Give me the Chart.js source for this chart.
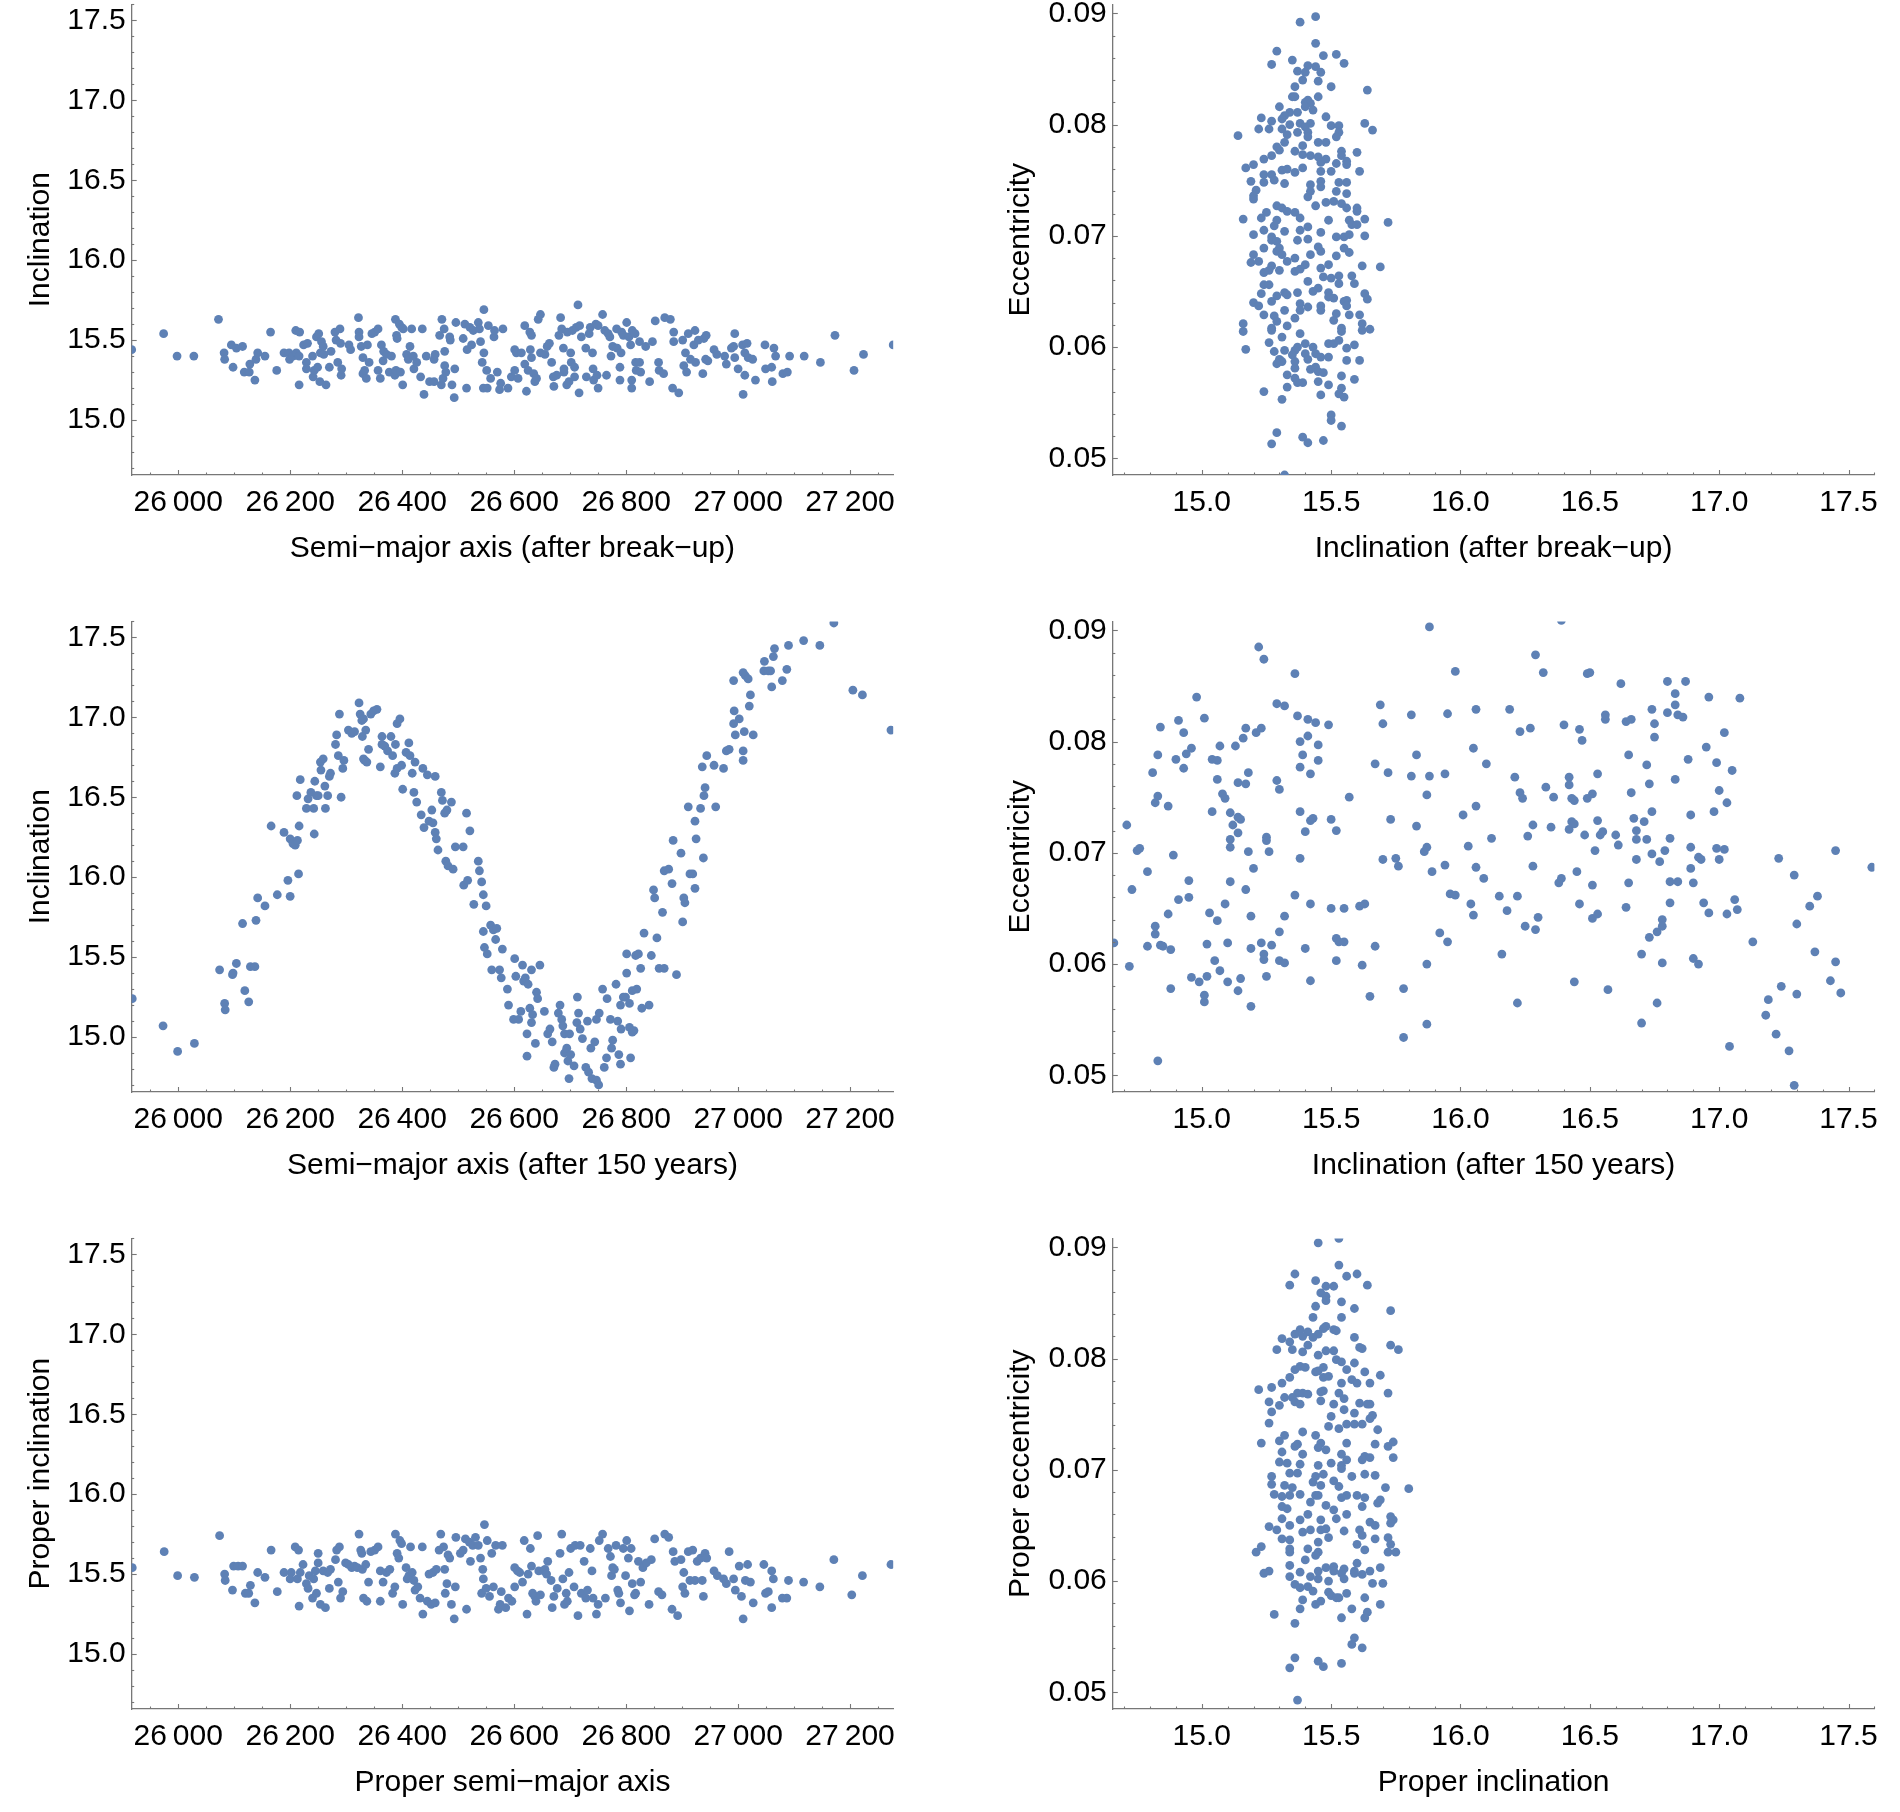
<!DOCTYPE html>
<html>
<head>
<meta charset="utf-8">
<script src="https://cdn.jsdelivr.net/npm/chart.js@4.4.1/dist/chart.umd.min.js"></script>
<style>
  html, body { margin: 0; padding: 0; background: #fff; overflow: hidden; }
  body { width: 1900px; height: 1812px; position: relative; }
  .panel { position: absolute; width: 950px; height: 617px; }
  .panel canvas { display: block; }
</style>
</head>
<body>
<div class="panel" style="left:0;top:0"><canvas id="p1" width="950" height="617"></canvas></div>
<div class="panel" style="left:950px;top:0"><canvas id="p2" width="950" height="617"></canvas></div>
<div class="panel" style="left:0;top:617px"><canvas id="p3" width="950" height="617"></canvas></div>
<div class="panel" style="left:950px;top:617px"><canvas id="p4" width="950" height="617"></canvas></div>
<div class="panel" style="left:0;top:1234px"><canvas id="p5" width="950" height="617"></canvas></div>
<div class="panel" style="left:950px;top:1234px"><canvas id="p6" width="950" height="617"></canvas></div>
<script>
// tick labels and plot ranges
const semiMajorTicks = [26000, 26200, 26400, 26600, 26800, 27000, 27200];
const inclinationTicks = [15.0, 15.5, 16.0, 16.5, 17.0, 17.5];
const eccentricityTicks = [0.05, 0.06, 0.07, 0.08, 0.09];
const semiMajorRange = [25917, 27277];
const inclinationRange = [14.656, 17.6];
const eccentricityRange = [0.0485, 0.0908];

// [semi-major axis, inclination] after break-up
const breakupSemiMajorIncl = [
  [25917,15.44],[25974,15.54],[25998,15.40],[26028,15.40],[26072,15.63],[26082,15.42],[26083,15.38],[26095,15.47],[26098,15.33],[26104,15.45],
  [26115,15.46],[26118,15.30],[26127,15.30],[26128,15.35],[26137,15.25],[26139,15.38],[26142,15.42],[26155,15.40],[26165,15.55],[26176,15.31],
  [26189,15.42],[26198,15.42],[26199,15.38],[26205,15.40],[26210,15.56],[26211,15.42],[26216,15.22],[26217,15.55],[26216,15.40],[26224,15.47],
  [26231,15.48],[26229,15.36],[26229,15.32],[26240,15.40],[26241,15.27],[26243,15.31],[26247,15.52],[26249,15.33],[26251,15.54],[26253,15.24],
  [26254,15.42],[26256,15.49],[26259,15.46],[26264,15.22],[26260,15.41],[26270,15.33],[26273,15.43],[26280,15.55],[26282,15.50],[26285,15.36],
  [26289,15.57],[26290,15.48],[26291,15.28],[26292,15.32],[26305,15.47],[26308,15.44],[26322,15.64],[26323,15.55],[26323,15.52],[26327,15.46],
  [26330,15.29],[26330,15.39],[26333,15.31],[26336,15.26],[26338,15.47],[26341,15.36],[26346,15.54],[26351,15.55],[26357,15.57],[26357,15.31],
  [26361,15.26],[26363,15.47],[26366,15.37],[26367,15.43],[26372,15.41],[26377,15.30],[26381,15.40],[26387,15.28],[26389,15.31],[26388,15.63],
  [26390,15.53],[26391,15.51],[26395,15.60],[26397,15.30],[26399,15.58],[26401,15.22],[26402,15.57],[26408,15.41],[26411,15.38],[26414,15.46],
  [26417,15.57],[26420,15.40],[26421,15.32],[26426,15.36],[26433,15.27],[26436,15.57],[26439,15.16],[26443,15.40],[26449,15.24],[26457,15.24],
  [26457,15.38],[26459,15.41],[26467,15.53],[26470,15.22],[26471,15.63],[26473,15.26],[26475,15.57],[26476,15.43],[26476,15.34],[26478,15.30],
  [26485,15.52],[26486,15.50],[26489,15.22],[26493,15.14],[26494,15.32],[26496,15.61],[26509,15.51],[26512,15.60],[26515,15.20],[26516,15.44],
  [26521,15.58],[26524,15.47],[26527,15.56],[26536,15.61],[26538,15.57],[26540,15.49],[26543,15.36],[26545,15.20],[26546,15.69],[26546,15.42],
  [26551,15.31],[26552,15.20],[26554,15.59],[26558,15.26],[26564,15.52],[26565,15.56],[26570,15.30],[26574,15.19],[26576,15.23],[26580,15.57],
  [26589,15.20],
  [26595,15.27],[26601,15.31],[26601,15.44],[26604,15.42],[26607,15.26],[26613,15.42],[26619,15.59],[26619,15.35],[26622,15.18],[26625,15.31],
  [26628,15.55],[26631,15.53],[26629,15.44],[26631,15.39],[26635,15.29],[26637,15.24],[26640,15.26],[26643,15.63],[26647,15.66],[26647,15.42],
  [26655,15.41],[26659,15.46],[26663,15.48],[26667,15.36],[26670,15.27],[26671,15.21],[26676,15.28],[26680,15.53],[26683,15.64],[26685,15.57],
  [26688,15.45],[26689,15.30],[26689,15.32],[26694,15.22],[26695,15.55],[26698,15.24],[26701,15.42],[26702,15.36],[26704,15.56],[26708,15.27],
  [26708,15.33],[26711,15.58],[26714,15.72],[26716,15.17],[26717,15.59],[26720,15.52],[26728,15.45],[26729,15.27],[26734,15.54],[26736,15.58],
  [26740,15.42],[26741,15.32],[26742,15.25],[26746,15.60],[26748,15.28],[26750,15.20],[26750,15.59],[26758,15.66],[26762,15.56],[26765,15.28],
  [26768,15.54],[26771,15.52],[26773,15.40],[26776,15.46],[26783,15.57],[26784,15.45],[26789,15.33],[26789,15.25],[26791,15.42],[26792,15.55],
  [26795,15.53],[26801,15.61],[26805,15.52],[26808,15.47],[26810,15.25],[26810,15.20],[26811,15.56],[26816,15.54],[26817,15.36],[26818,15.31],
  [26824,15.36],[26824,15.49],[26826,15.30],[26835,15.46],[26842,15.24],[26847,15.49],[26852,15.62],[26858,15.36],[26859,15.31],[26867,15.29],
  [26869,15.64],[26879,15.63],[26883,15.20],[26885,15.49],[26885,15.55],[26894,15.17],[26901,15.50],[26903,15.34],[26906,15.42],[26908,15.30],
  [26911,15.54],[26915,15.38],[26921,15.47],[26923,15.56],[26924,15.36],[26929,15.50],[26937,15.29],[26939,15.51],[26943,15.53],[26942,15.38],
  [26946,15.37],[26957,15.44],[26962,15.41],[26976,15.40],[26979,15.35],[26988,15.45],[26992,15.46],[26994,15.54],[26994,15.39],[27000,15.32],
  [27008,15.47],[27009,15.16],[27012,15.28],[27012,15.42],[27016,15.48],[27018,15.39],[27026,15.38],[27031,15.25],[27048,15.47],[27049,15.32],
  [27060,15.33],[27061,15.24],[27064,15.45],[27067,15.40],[27080,15.29],[27088,15.30],[27092,15.40],[27118,15.40],[27147,15.36],[27173,15.53],
  [27207,15.31],[27224,15.41],[27277,15.47]
];

// [inclination, eccentricity] after break-up
const breakupInclEcc = [
  [15.44,0.0897],[15.38,0.0892],[15.44,0.0873],[15.29,0.0866],[15.52,0.0863],[15.47,0.0862],[15.35,0.0858],[15.27,0.0854],[15.55,0.0855],[15.41,0.0853],
  [15.44,0.0852],[15.37,0.0848],[15.46,0.0847],[15.40,0.0847],[15.39,0.0840],[15.45,0.0839],[15.36,0.0834],[15.50,0.0834],[15.64,0.0831],[15.35,0.0825],
  [15.36,0.0825],[15.45,0.0825],[15.41,0.0822],[15.40,0.0820],[15.42,0.0819],[15.40,0.0816],[15.30,0.0816],[15.43,0.0813],[15.34,0.0811],[15.37,0.0811],
  [15.32,0.0808],[15.23,0.0806],[15.48,0.0807],[15.27,0.0803],[15.31,0.0805],[15.38,0.0801],[15.42,0.0801],[15.34,0.0800],[15.40,0.0798],[15.50,0.0799],
  [15.53,0.0799],[15.63,0.0801],[15.22,0.0796],[15.26,0.0796],[15.31,0.0796],[15.37,0.0793],[15.41,0.0793],[15.66,0.0795],[15.33,0.0791],[15.53,0.0793],
  [15.41,0.0789],[15.52,0.0789],[15.14,0.0790],[15.45,0.0784],[15.48,0.0784],[15.32,0.0784],[15.39,0.0781],[15.29,0.0780],[15.30,0.0777],[15.36,0.0776],
  [15.54,0.0776],[15.60,0.0775],[15.27,0.0772],[15.39,0.0773],[15.42,0.0772],[15.24,0.0769],[15.45,0.0771],[15.48,0.0769],[15.54,0.0772],[15.46,0.0766],
  [15.52,0.0765],[15.56,0.0767],[15.56,0.0764],[15.20,0.0764],[15.17,0.0761],[15.39,0.0761],[15.61,0.0758],[15.24,0.0755],[15.27,0.0755],[15.31,0.0759],
  [15.33,0.0760],[15.36,0.0757],[15.46,0.0758],[15.50,0.0758],[15.28,0.0750],[15.19,0.0749],[15.24,0.0748],[15.32,0.0747],[15.42,0.0746],[15.46,0.0749],
  [15.53,0.0748],[15.56,0.0748],[15.46,0.0744],[15.52,0.0740],[15.21,0.0741],[15.42,0.0740],[15.56,0.0738],[15.20,0.0736],[15.20,0.0733],[15.41,0.0735],
  [15.48,0.0730],[15.51,0.0731],[15.54,0.0729],[15.44,0.0727],[15.56,0.0725],[15.60,0.0725],[15.60,0.0722],[15.29,0.0727],[15.31,0.0725],[15.33,0.0722],
  [15.25,0.0721],[15.36,0.0721],[15.23,0.0716],[15.16,0.0715],[15.29,0.0714],[15.38,0.0716],[15.49,0.0714],[15.57,0.0714],[15.63,0.0715],[15.72,0.0712],
  [15.58,0.0710],[15.60,0.0710],[15.28,0.0709],[15.41,0.0708],[15.38,0.0705],[15.32,0.0704],[15.24,0.0705],[15.46,0.0703],[15.20,0.0701],[15.52,0.0699],
  [15.55,0.0699],[15.57,0.0701],[15.63,0.0700],[15.27,0.0699],[15.27,0.0696],[15.29,0.0695],[15.37,0.0696],[15.41,0.0697],[15.45,0.0690],[15.46,0.0686],
  [15.30,0.0689],[15.24,0.0689],[15.55,0.0689],[15.57,0.0685],[15.42,0.0683],[15.52,0.0682],[15.20,0.0683],[15.29,0.0686],[15.31,0.0683],[15.36,0.0680],
  [15.33,0.0677],[15.19,0.0676],[15.22,0.0677],[15.40,0.0674],[15.27,0.0673],[15.62,0.0673],[15.69,0.0672],[15.26,0.0669],[15.30,0.0669],[15.36,0.0668],
  [15.38,0.0670],[15.46,0.0671],[15.24,0.0667],[15.49,0.0674],[15.50,0.0662],[15.53,0.0664],[15.47,0.0663],[15.58,0.0664],[15.41,0.0659],[15.24,0.0656],
  [15.53,0.0657],[15.59,0.0657],[15.26,0.0656],[15.45,0.0653],[15.43,0.0650],[15.37,0.0649],[15.32,0.0649],[15.49,0.0649],[15.33,0.0647],[15.23,0.0648],
  [15.63,0.0648],[15.64,0.0643],[15.49,0.0645],[15.29,0.0646],[15.20,0.0640],[15.51,0.0644],[15.56,0.0642],[15.55,0.0641],[15.38,0.0639],[15.22,0.0637],
  [15.27,0.0641],[15.56,0.0637],[15.41,0.0636],[15.46,0.0637],[15.38,0.0633],[15.32,0.0633],[15.46,0.0633],[15.52,0.0630],[15.24,0.0629],[15.57,0.0629],
  [15.61,0.0629],[15.28,0.0628],[15.36,0.0626],[15.51,0.0624],[15.29,0.0623],[15.16,0.0621],[15.27,0.0617],[15.33,0.0619],[15.54,0.0617],[15.54,0.0614],
  [15.62,0.0621],[15.62,0.0615],[15.65,0.0616],[15.16,0.0614],[15.27,0.0615],[15.38,0.0612],[15.31,0.0609],[15.40,0.0603],[15.26,0.0604],[15.49,0.0603],
  [15.51,0.0603],[15.53,0.0606],[15.37,0.0600],[15.43,0.0600],[15.59,0.0602],[15.17,0.0598],[15.32,0.0597],[15.36,0.0597],[15.28,0.0596],[15.40,0.0594],
  [15.56,0.0599],[15.44,0.0594],[15.46,0.0591],[15.49,0.0591],[15.35,0.0593],[15.30,0.0589],[15.31,0.0587],[15.29,0.0585],[15.56,0.0588],[15.61,0.0588],
  [15.36,0.0587],[15.41,0.0589],[15.42,0.0580],[15.44,0.0582],[15.36,0.0581],[15.45,0.0578],[15.47,0.0577],[15.33,0.0575],[15.54,0.0574],[15.36,0.0572],
  [15.37,0.0568],[15.39,0.0568],[15.45,0.0569],[15.59,0.0571],[15.33,0.0564],[15.49,0.0566],[15.54,0.0563],[15.53,0.0558],[15.55,0.0555],[15.46,0.0557],
  [15.24,0.0560],[15.31,0.0553],[15.50,0.0539],[15.50,0.0534],[15.54,0.0529],[15.29,0.0523],[15.27,0.0513],[15.39,0.0519],[15.41,0.0514],[15.47,0.0516],
  [15.32,0.0485]
];

// [semi-major axis, inclination] after 150 years
const after150SemiMajorIncl = [
  [25918,15.24],[25973,15.07],[25999,14.91],[26029,14.96],[26074,15.42],[26083,15.21],[26084,15.17],[26097,15.39],[26098,15.40],[26104,15.46],
  [26119,15.29],[26115,15.71],[26126,15.22],[26129,15.44],[26137,15.44],[26139,15.73],[26142,15.87],[26155,15.82],[26166,16.32],[26177,15.89],
  [26189,16.28],[26196,15.98],[26200,15.88],[26200,16.24],[26205,16.21],[26209,16.20],[26212,16.51],[26213,16.23],[26215,16.02],[26216,16.32],
  [26218,16.61],[26229,16.43],[26232,16.49],[26237,16.53],[26242,16.43],[26243,16.27],[26244,16.60],[26247,16.51],[26250,16.51],[26254,16.72],
  [26255,16.67],[26259,16.74],[26263,16.43],[26262,16.57],[26267,16.51],[26270,16.63],[26272,16.65],[26281,16.83],[26283,16.89],[26286,16.76],
  [26288,17.02],[26291,16.50],[26294,16.68],[26296,16.73],[26304,16.92],[26310,16.90],[26315,16.91],[26323,17.09],[26325,17.02],[26328,16.98],
  [26331,16.99],[26335,16.92],[26329,16.88],[26331,16.74],[26333,16.73],[26337,16.72],[26340,16.80],[26344,17.02],[26349,17.04],[26355,17.05],
  [26361,16.69],[26364,16.88],[26364,16.83],[26369,16.82],[26374,16.79],[26380,16.88],[26383,16.76],[26387,16.65],[26388,16.83],[26391,16.68],
  [26391,16.96],[26396,16.99],[26399,16.70],[26401,16.55],[26407,16.78],[26412,16.84],[26414,16.76],[26418,16.65],[26421,16.53],[26423,16.72],
  [26426,16.47],[26434,16.39],[26437,16.68],[26439,16.31],[26445,16.64],[26448,16.35],[26453,16.42],[26455,16.34],[26459,16.63],[26459,16.28],
  [26461,16.24],[26464,16.17],[26470,16.53],[26472,16.48],[26476,16.40],[26478,16.10],[26480,16.42],[26482,16.07],[26488,16.47],[26491,16.05],
  [26495,16.19],[26509,16.19],[26510,15.95],[26515,16.40],[26517,15.98],[26521,16.29],[26528,15.83],[26536,16.10],[26538,16.04],[26542,15.97],
  [26545,15.89],[26550,15.82],[26545,15.66],[26547,15.56],[26552,15.52],[26558,15.70],[26563,15.67],[26567,15.61],[26569,15.68],[26560,15.42],
  [26574,15.42],[26577,15.37],[26579,15.55],[26588,15.30],[26590,15.20],[26599,15.11],[26601,15.49],[26603,15.38],[26608,15.11],[26612,15.16],
  [26615,15.45],[26617,15.35],[26620,15.37],[26625,15.33],[26628,15.18],[26631,15.42],[26631,15.09],[26633,15.14],[26638,14.96],[26640,15.28],
  [26642,15.24],[26646,15.45],[26623,15.02],[26623,14.88],[26654,15.16],[26660,15.02],[26664,15.05],[26668,14.97],[26671,14.81],[26673,14.83],
  [26679,15.15],[26682,15.20],[26685,15.11],[26687,15.07],[26690,15.02],[26690,14.90],[26694,14.93],[26696,14.85],[26698,14.74],[26699,15.02],
  [26701,14.89],[26707,14.82],[26713,15.25],[26712,15.09],[26715,15.15],[26718,15.05],[26722,14.99],[26728,14.81],[26731,15.10],[26733,14.78],
  [26737,14.93],[26739,14.74],[26744,14.97],[26747,14.73],[26751,14.70],[26747,15.11],[26752,15.15],[26758,15.30],[26761,14.81],[26765,14.87],
  [26766,15.24],[26772,15.11],[26774,14.93],[26776,14.98],[26782,15.33],[26785,15.10],[26787,14.89],[26790,14.83],[26790,15.20],[26791,15.05],
  [26795,15.25],[26799,15.25],[26801,15.52],[26801,15.40],[26806,15.21],[26806,15.06],[26808,14.87],[26811,15.29],[26811,15.03],[26814,15.04],
  [26817,15.51],[26819,15.30],[26822,15.52],[26826,15.43],[26828,15.18],[26832,15.65],[26841,15.20],[26845,15.51],[26849,15.92],[26851,15.87],
  [26855,15.62],[26859,15.43],[26865,15.78],[26868,16.04],[26868,15.43],[26876,16.05],[26882,15.96],[26884,16.23],[26890,15.39],[26898,16.15],
  [26901,15.72],[26903,15.87],[26905,15.84],[26911,16.44],[26914,16.02],[26919,16.02],[26923,15.93],[26925,16.24],[26923,16.35],[26933,16.43],
  [26936,16.69],[26938,16.12],[26939,16.51],[26941,16.56],[26944,16.76],[26960,16.44],[26957,16.70],[26974,16.68],[26979,16.79],[26984,16.80],
  [26992,17.23],[26992,16.96],[26993,17.04],[26995,16.89],[27002,16.99],[27009,16.79],[27009,16.73],[27011,16.91],[27009,17.28],[27013,17.26],
  [27018,17.24],[27020,17.07],[27022,17.14],[27027,16.89],[27046,17.29],[27047,17.35],[27054,17.29],[27058,17.29],[27060,17.19],[27063,17.38],
  [27065,17.43],[27079,17.23],[27087,17.30],[27090,17.45],[27117,17.48],[27146,17.45],[27171,17.59],[27205,17.17],[27222,17.14],[27273,16.92]
];

// [inclination, eccentricity] after 150 years
const after150InclEcc = [
  [14.66,0.0619],[14.71,0.0725],[14.72,0.0598],[14.73,0.0667],[14.75,0.0702],[14.76,0.0704],[14.79,0.0616],[14.79,0.0683],[14.81,0.0772],[14.82,0.0634],
  [14.82,0.0627],[14.82,0.0745],[14.83,0.0751],[14.83,0.0788],[14.83,0.0513],[14.84,0.0617],[14.84,0.0813],[14.85,0.0616],[14.87,0.0645],[14.87,0.0742],
  [14.88,0.0613],[14.88,0.0578],[14.89,0.0698],[14.90,0.0784],[14.91,0.0658],[14.91,0.0819],[14.93,0.0808],[14.93,0.0776],[14.94,0.0789],[14.95,0.0675],
  [14.95,0.0660],[14.96,0.0794],[14.96,0.0588],[14.98,0.0840],[14.99,0.0584],[15.01,0.0566],[15.01,0.0572],[15.01,0.0821],[15.02,0.0618],[15.02,0.0589],
  [15.03,0.0646],[15.04,0.0737],[15.04,0.0784],[15.05,0.0603],[15.06,0.0766],[15.06,0.0783],[15.06,0.0639],[15.07,0.0594],[15.07,0.0796],[15.08,0.0753],
  [15.09,0.0654],[15.09,0.0749],[15.10,0.0584],[15.10,0.0619],[15.11,0.0712],[15.11,0.0705],[15.11,0.0736],[15.11,0.0674],[15.12,0.0725],[15.13,0.0796],
  [15.14,0.0732],[15.14,0.0763],[15.14,0.0576],[15.14,0.0718],[15.15,0.0730],[15.15,0.0587],[15.16,0.0803],[15.17,0.0667],[15.17,0.0812],[15.17,0.0762],
  [15.18,0.0772],[15.18,0.0701],[15.19,0.0643],[15.19,0.0614],[15.19,0.0562],[15.20,0.0686],[15.21,0.0808],[15.22,0.0885],[15.23,0.0812],[15.23,0.0619],
  [15.24,0.0874],[15.24,0.0609],[15.24,0.0604],[15.25,0.0589],[15.25,0.0714],[15.25,0.0711],[15.26,0.0701],[15.27,0.0617],[15.29,0.0765],[15.29,0.0834],
  [15.30,0.0757],[15.30,0.0603],[15.30,0.0629],[15.32,0.0832],[15.32,0.0643],[15.32,0.0601],[15.36,0.0861],[15.36,0.0662],[15.37,0.0823],[15.38,0.0737],
  [15.38,0.0800],[15.38,0.0777],[15.38,0.0695],[15.39,0.0788],[15.40,0.0614],[15.40,0.0719],[15.41,0.0820],[15.41,0.0805],[15.42,0.0771],[15.42,0.0729],
  [15.42,0.0654],[15.42,0.0585],[15.43,0.0731],[15.44,0.0817],[15.45,0.0797],[15.45,0.0783],[15.49,0.0815],[15.50,0.0730],[15.50,0.0650],[15.52,0.0720],
  [15.52,0.0623],[15.52,0.0603],[15.53,0.0620],[15.55,0.0650],[15.55,0.0620],[15.57,0.0750],[15.61,0.0652],[15.62,0.0599],[15.63,0.0654],[15.65,0.0571],
  [15.67,0.0780],[15.67,0.0616],[15.69,0.0833],[15.70,0.0694],[15.70,0.0816],[15.72,0.0772],[15.73,0.0730],[15.75,0.0695],[15.76,0.0688],[15.78,0.0534],
  [15.78,0.0578],[15.81,0.0769],[15.81,0.0824],[15.83,0.0788],[15.83,0.0724],[15.86,0.0701],[15.87,0.0705],[15.87,0.0600],[15.87,0.0752],[15.87,0.0546],
  [15.88,0.0903],[15.88,0.0769],[15.89,0.0683],[15.92,0.0628],[15.94,0.0689],[15.94,0.0771],[15.95,0.0620],[15.95,0.0825],[15.96,0.0663],[15.98,0.0662],
  [15.98,0.0863],[16.01,0.0734],[16.03,0.0706],[16.04,0.0654],[16.05,0.0644],[16.05,0.0794],[16.06,0.0829],[16.06,0.0742],[16.06,0.0687],[16.09,0.0677],
  [16.10,0.0780],[16.12,0.0713],[16.15,0.0661],[16.16,0.0609],[16.18,0.0648],[16.19,0.0829],[16.21,0.0768],[16.22,0.0565],[16.22,0.0661],[16.23,0.0809],
  [16.23,0.0754],[16.24,0.0749],[16.25,0.0634],[16.26,0.0715],[16.27,0.0812],[16.28,0.0725],[16.28,0.0688],[16.29,0.0631],[16.29,0.0878],[16.30,0.0642],
  [16.32,0.0862],[16.33,0.0759],[16.35,0.0723],[16.36,0.0750],[16.38,0.0673],[16.39,0.0677],[16.39,0.0909],[16.40,0.0815],[16.42,0.0768],[16.42,0.0761],
  [16.42,0.0721],[16.43,0.0728],[16.43,0.0749],[16.44,0.0584],[16.44,0.0747],[16.44,0.0726],[16.45,0.0683],[16.46,0.0811],[16.46,0.0654],[16.47,0.0801],
  [16.48,0.0716],[16.49,0.0749],[16.49,0.0861],[16.50,0.0862],[16.51,0.0641],[16.51,0.0671],[16.51,0.0753],[16.52,0.0702],[16.53,0.0771],[16.53,0.0645],
  [16.53,0.0729],[16.54,0.0716],[16.55,0.0719],[16.56,0.0820],[16.56,0.0824],[16.57,0.0577],[16.60,0.0716],[16.61,0.0707],[16.62,0.0852],[16.64,0.0818],
  [16.64,0.0651],[16.65,0.0788],[16.65,0.0673],[16.66,0.0820],[16.66,0.0754],[16.67,0.0731],[16.68,0.0694],[16.68,0.0712],[16.68,0.0720],[16.70,0.0547],
  [16.70,0.0609],[16.71,0.0728],[16.72,0.0712],[16.72,0.0779],[16.73,0.0762],[16.73,0.0624],[16.74,0.0829],[16.74,0.0699],[16.74,0.0737],[16.75,0.0816],
  [16.75,0.0804],[16.76,0.0629],[16.76,0.0565],[16.77,0.0692],[16.78,0.0640],[16.78,0.0634],[16.78,0.0601],[16.79,0.0702],[16.80,0.0826],[16.80,0.0854],
  [16.81,0.0674],[16.81,0.0713],[16.81,0.0655],[16.83,0.0843],[16.83,0.0833],[16.83,0.0766],[16.84,0.0674],[16.84,0.0824],[16.86,0.0822],[16.87,0.0854],
  [16.88,0.0784],[16.89,0.0734],[16.89,0.0686],[16.89,0.0705],[16.90,0.0605],[16.90,0.0673],[16.92,0.0696],[16.92,0.0600],[16.93,0.0694],[16.94,0.0655],
  [16.95,0.0795],[16.96,0.0646],[16.96,0.0840],[16.98,0.0737],[16.99,0.0781],[16.99,0.0704],[17.00,0.0756],[17.00,0.0694],[17.02,0.0808],[17.02,0.0703],
  [17.03,0.0645],[17.03,0.0745],[17.04,0.0526],[17.05,0.0774],[17.06,0.0658],[17.07,0.0649],[17.08,0.0839],[17.13,0.0620],[17.18,0.0554],[17.19,0.0568],
  [17.22,0.0537],[17.23,0.0695],[17.24,0.0580],[17.27,0.0522],[17.29,0.0680],[17.30,0.0573],[17.30,0.0636],[17.35,0.0652],[17.37,0.0611],[17.38,0.0661],
  [17.43,0.0585],[17.45,0.0702],[17.45,0.0602],[17.47,0.0574],[17.59,0.0687],[17.29,0.0491]
];

// [proper semi-major axis, proper inclination]
const properSemiMajorIncl = [
  [25918,15.54],[25975,15.64],[25999,15.49],[26029,15.48],[26074,15.74],[26083,15.50],[26084,15.46],[26097,15.40],[26099,15.55],[26107,15.55],
  [26115,15.55],[26120,15.38],[26126,15.38],[26129,15.43],[26137,15.32],[26142,15.51],[26155,15.48],[26166,15.65],[26177,15.39],[26189,15.51],
  [26200,15.47],[26202,15.51],[26209,15.67],[26213,15.47],[26215,15.65],[26216,15.30],[26218,15.51],[26223,15.56],[26229,15.44],[26232,15.41],
  [26234,15.49],[26240,15.35],[26242,15.47],[26245,15.52],[26247,15.38],[26250,15.63],[26250,15.57],[26254,15.31],[26259,15.52],[26263,15.29],
  [26267,15.51],[26270,15.41],[26272,15.53],[26281,15.59],[26283,15.65],[26286,15.45],[26288,15.67],[26290,15.35],[26294,15.39],[26299,15.57],
  [26304,15.56],[26310,15.54],[26315,15.55],[26320,15.54],[26323,15.75],[26326,15.65],[26328,15.63],[26329,15.53],[26331,15.35],[26335,15.56],
  [26337,15.33],[26340,15.45],[26344,15.64],[26351,15.65],[26357,15.67],[26361,15.52],[26361,15.33],[26366,15.45],[26372,15.51],[26378,15.53],
  [26383,15.38],[26387,15.42],[26388,15.75],[26391,15.63],[26394,15.60],[26396,15.71],[26399,15.69],[26401,15.31],[26407,15.54],[26409,15.47],
  [26412,15.49],[26415,15.67],[26418,15.51],[26421,15.46],[26423,15.40],[26428,15.42],[26432,15.35],[26436,15.67],[26437,15.25],[26445,15.33],
  [26448,15.50],[26452,15.31],[26455,15.51],[26459,15.32],[26461,15.53],[26466,15.65],[26469,15.75],[26474,15.67],[26476,15.53],[26477,15.38],
  [26480,15.44],[26482,15.62],[26485,15.60],[26488,15.31],[26493,15.22],[26495,15.42],[26496,15.73],[26504,15.63],[26509,15.65],[26513,15.72],
  [26515,15.28],[26520,15.70],[26522,15.58],[26526,15.68],[26531,15.73],[26536,15.68],[26540,15.60],[26542,15.38],[26544,15.53],[26545,15.47],
  [26547,15.81],[26550,15.41],[26552,15.71],[26556,15.36],[26560,15.63],[26563,15.42],[26567,15.68],[26572,15.28],[26575,15.31],[26577,15.39],
  [26579,15.68],[26585,15.29],[26590,15.35],[26596,15.33],[26601,15.42],[26601,15.54],[26606,15.52],[26610,15.51],[26615,15.45],[26618,15.71],
  [26623,15.25],[26625,15.50],[26629,15.66],[26631,15.55],[26633,15.38],[26637,15.36],[26639,15.33],[26642,15.74],[26644,15.52],[26647,15.37],
  [26653,15.52],[26655,15.53],[26658,15.50],[26660,15.58],[26666,15.46],[26668,15.29],[26671,15.36],[26677,15.41],[26682,15.63],[26685,15.75],
  [26687,15.47],[26690,15.31],[26693,15.38],[26695,15.33],[26698,15.51],[26701,15.66],[26707,15.42],[26709,15.68],[26714,15.24],[26718,15.68],
  [26720,15.38],[26725,15.58],[26728,15.35],[26731,15.40],[26736,15.66],[26739,15.52],[26741,15.35],[26747,15.25],[26750,15.31],[26752,15.71],
  [26758,15.75],[26763,15.35],[26768,15.66],[26772,15.61],[26774,15.49],[26776,15.54],[26779,15.53],[26782,15.68],[26785,15.40],[26787,15.38],
  [26790,15.32],[26795,15.66],[26799,15.49],[26801,15.71],[26804,15.60],[26806,15.27],[26809,15.66],[26811,15.44],[26815,15.37],[26817,15.38],
  [26822,15.58],[26826,15.45],[26830,15.54],[26836,15.57],[26841,15.31],[26845,15.59],[26851,15.72],[26858,15.39],[26864,15.37],[26869,15.75],
  [26876,15.73],[26882,15.28],[26884,15.64],[26887,15.58],[26892,15.24],[26898,15.59],[26901,15.42],[26903,15.51],[26905,15.38],[26911,15.64],
  [26914,15.46],[26919,15.65],[26923,15.46],[26927,15.58],[26933,15.60],[26936,15.46],[26938,15.36],[26941,15.63],[26944,15.60],[26957,15.52],
  [26963,15.49],[26974,15.47],[26979,15.44],[26984,15.64],[26992,15.47],[26995,15.40],[27002,15.55],[27006,15.36],[27009,15.22],[27013,15.46],
  [27017,15.56],[27022,15.45],[27027,15.32],[27046,15.56],[27049,15.38],[27054,15.39],[27060,15.52],[27063,15.47],[27060,15.29],[27079,15.35],
  [27087,15.35],[27090,15.46],[27117,15.45],[27146,15.42],[27171,15.59],[27203,15.37],[27222,15.49],[27273,15.56]
];

// [proper inclination, proper eccentricity]
const properInclEcc = [
  [15.53,0.0908],[15.45,0.0904],[15.53,0.0884],[15.36,0.0876],[15.44,0.0870],[15.56,0.0874],[15.60,0.0876],[15.34,0.0866],[15.64,0.0866],[15.51,0.0865],
  [15.48,0.0865],[15.46,0.0859],[15.48,0.0856],[15.54,0.0851],[15.48,0.0852],[15.44,0.0847],[15.59,0.0845],[15.73,0.0843],[15.43,0.0837],[15.54,0.0837],
  [15.48,0.0829],[15.47,0.0827],[15.51,0.0826],[15.38,0.0826],[15.41,0.0824],[15.45,0.0822],[15.52,0.0825],[15.36,0.0822],[15.39,0.0820],[15.43,0.0819],
  [15.31,0.0818],[15.59,0.0819],[15.34,0.0815],[15.61,0.0810],[15.62,0.0809],[15.73,0.0812],[15.76,0.0808],[15.29,0.0808],[15.35,0.0808],[15.39,0.0806],
  [15.41,0.0812],[15.45,0.0803],[15.48,0.0807],[15.51,0.0807],[15.52,0.0799],[15.54,0.0797],[15.59,0.0796],[15.38,0.0793],[15.40,0.0792],[15.36,0.0790],
  [15.44,0.0788],[15.47,0.0792],[15.45,0.0789],[15.47,0.0783],[15.56,0.0790],[15.63,0.0788],[15.69,0.0785],[15.31,0.0778],[15.34,0.0783],[15.49,0.0784],
  [15.54,0.0778],[15.58,0.0781],[15.60,0.0778],[15.65,0.0778],[15.27,0.0774],[15.22,0.0772],[15.37,0.0769],[15.39,0.0769],[15.41,0.0768],[15.47,0.0771],
  [15.46,0.0770],[15.53,0.0769],[15.72,0.0769],[15.32,0.0765],[15.35,0.0765],[15.55,0.0764],[15.65,0.0759],[15.26,0.0761],[15.27,0.0752],[15.36,0.0761],
  [15.38,0.0759],[15.46,0.0762],[15.51,0.0759],[15.55,0.0754],[15.61,0.0760],[15.64,0.0759],[15.30,0.0758],[15.50,0.0748],[15.59,0.0751],[15.66,0.0749],
  [15.65,0.0746],[15.49,0.0739],[15.53,0.0737],[15.56,0.0741],[15.59,0.0741],[15.62,0.0741],[15.68,0.0736],[15.26,0.0742],[15.32,0.0731],[15.39,0.0734],
  [15.44,0.0731],[15.46,0.0724],[15.56,0.0724],[15.23,0.0724],[15.30,0.0726],[15.37,0.0723],[15.45,0.0720],[15.67,0.0723],[15.72,0.0721],[15.74,0.0725],
  [15.31,0.0716],[15.36,0.0721],[15.39,0.0714],[15.48,0.0718],[15.54,0.0714],[15.56,0.0709],[15.63,0.0712],[15.65,0.0711],[15.74,0.0711],[15.30,0.0707],
  [15.33,0.0706],[15.38,0.0705],[15.45,0.0704],[15.50,0.0706],[15.54,0.0704],[15.62,0.0709],[15.27,0.0694],[15.34,0.0697],[15.37,0.0697],[15.44,0.0694],
  [15.47,0.0696],[15.54,0.0701],[15.58,0.0694],[15.63,0.0696],[15.67,0.0695],[15.27,0.0687],[15.32,0.0686],[15.35,0.0684],[15.38,0.0678],[15.43,0.0689],
  [15.46,0.0686],[15.51,0.0690],[15.53,0.0685],[15.56,0.0677],[15.60,0.0677],[15.71,0.0684],[15.80,0.0683],[15.28,0.0678],[15.31,0.0676],[15.34,0.0677],
  [15.44,0.0677],[15.45,0.0677],[15.54,0.0675],[15.63,0.0675],[15.69,0.0673],[15.31,0.0667],[15.33,0.0665],[15.42,0.0671],[15.48,0.0668],[15.51,0.0664],
  [15.62,0.0667],[15.68,0.0670],[15.73,0.0658],[15.74,0.0655],[15.31,0.0656],[15.38,0.0655],[15.41,0.0660],[15.46,0.0655],[15.52,0.0656],[15.56,0.0660],
  [15.65,0.0653],[15.26,0.0649],[15.29,0.0646],[15.34,0.0650],[15.39,0.0644],[15.42,0.0646],[15.46,0.0646],[15.48,0.0647],[15.61,0.0646],[15.55,0.0645],
  [15.67,0.0650],[15.73,0.0652],[15.31,0.0638],[15.34,0.0637],[15.45,0.0635],[15.49,0.0639],[15.62,0.0641],[15.67,0.0638],[15.72,0.0639],[15.23,0.0631],
  [15.21,0.0626],[15.34,0.0629],[15.41,0.0629],[15.45,0.0626],[15.60,0.0633],[15.63,0.0628],[15.73,0.0633],[15.72,0.0626],[15.75,0.0626],[15.34,0.0626],
  [15.40,0.0619],[15.44,0.0623],[15.51,0.0613],[15.55,0.0611],[15.60,0.0616],[15.65,0.0609],[15.69,0.0612],[15.26,0.0609],[15.24,0.0607],[15.34,0.0614],
  [15.38,0.0608],[15.45,0.0609],[15.48,0.0612],[15.51,0.0609],[15.54,0.0607],[15.59,0.0609],[15.62,0.0606],[15.34,0.0604],[15.42,0.0604],[15.45,0.0602],
  [15.49,0.0600],[15.55,0.0602],[15.59,0.0607],[15.66,0.0598],[15.70,0.0598],[15.36,0.0597],[15.38,0.0594],[15.41,0.0595],[15.43,0.0591],[15.49,0.0590],
  [15.50,0.0587],[15.53,0.0585],[15.56,0.0589],[15.63,0.0585],[15.69,0.0579],[15.39,0.0583],[15.44,0.0579],[15.46,0.0582],[15.52,0.0585],[15.38,0.0575],
  [15.58,0.0575],[15.64,0.0572],[15.28,0.0570],[15.36,0.0562],[15.54,0.0567],[15.63,0.0567],[15.59,0.0549],[15.58,0.0543],[15.62,0.0540],[15.36,0.0531],
  [15.34,0.0522],[15.45,0.0528],[15.47,0.0523],[15.54,0.0526],[15.37,0.0493]
];

const FONT = "'Liberation Sans', Arial, Helvetica, sans-serif";
const AXIS_COLOR = '#777777';
const DOT_COLOR = '#5e81b5';

const semiMajorAxis = {
  range: semiMajorRange, major: semiMajorTicks, minorStep: 50,
  fmt: v => String(Math.round(v)).replace(/(\d+)(\d{3})$/, '$1\u2009$2')
};
const inclinationAxis = { range: inclinationRange, major: inclinationTicks, minorStep: 0.1, fmt: v => v.toFixed(1) };
const eccentricityAxis = { range: eccentricityRange, major: eccentricityTicks, minorStep: 0.002, fmt: v => v.toFixed(2) };

function minorTicks(axis) {
  const out = [];
  const [lo, hi] = axis.range;
  const first = Math.ceil(lo / axis.minorStep - 1e-6);
  for (let i = first; i * axis.minorStep <= hi + 1e-9; i++) {
    const v = +(i * axis.minorStep).toFixed(6);
    if (!axis.major.some(m => Math.abs(m - v) < axis.minorStep / 10)) out.push(v);
  }
  return out;
}

// small tick marks drawn on the inside of the axes, as in the original plots
function insideTicks(xAxis, yAxis) {
  const xMinor = minorTicks(xAxis), yMinor = minorTicks(yAxis);
  return {
    id: 'insideTicks',
    afterDatasetsDraw(chart) {
      const { ctx, chartArea: area, scales } = chart;
      ctx.save();
      ctx.strokeStyle = AXIS_COLOR;
      ctx.lineWidth = 1.1;
      const mark = (scale, values, len) => values.forEach(v => {
        const p = Math.round(scale.getPixelForValue(v)) + 0.5;
        ctx.beginPath();
        if (scale.isHorizontal()) { ctx.moveTo(p, area.bottom); ctx.lineTo(p, area.bottom - len); }
        else { ctx.moveTo(area.left, p); ctx.lineTo(area.left + len, p); }
        ctx.stroke();
      });
      mark(scales.x, xAxis.major, 5);
      mark(scales.x, xMinor, 2.5);
      mark(scales.y, yAxis.major, 5);
      mark(scales.y, yMinor, 2.5);
      ctx.restore();
    }
  };
}

function scaleOptions(axis, title, horizontal, yWidth, yTitlePad) {
  return {
    type: 'linear',
    position: horizontal ? 'bottom' : 'left',
    min: axis.range[0],
    max: axis.range[1],
    afterBuildTicks: s => { s.ticks = axis.major.map(v => ({ value: v })); },
    ticks: {
      callback: v => axis.fmt(v),
      font: { family: FONT, size: 30 },
      color: '#000',
      padding: horizontal ? 10 : 6,
      maxRotation: 0,
      autoSkip: false
    },
    grid: { display: false, drawTicks: false },
    border: { display: true, color: AXIS_COLOR, width: 1.3 },
    title: {
      display: true,
      text: title,
      font: { family: FONT, size: 30 },
      color: '#000',
      padding: horizontal ? { top: 0, bottom: 50 } : { top: yTitlePad, bottom: 0 }
    },
    afterFit: s => {
      if (horizontal) s.height = 142; else s.width = yWidth;
      s.paddingTop = 0; s.paddingBottom = 0; s.paddingLeft = 0; s.paddingRight = 0;
    }
  };
}

const panels = [
  { id: 'p1', points: breakupSemiMajorIncl, xAxis: semiMajorAxis, yAxis: inclinationAxis,
    xTitle: 'Semi\u2212major axis (after break\u2212up)', yTitle: 'Inclination', left: true },
  { id: 'p2', points: breakupInclEcc, xAxis: inclinationAxis, yAxis: eccentricityAxis,
    xTitle: 'Inclination (after break\u2212up)', yTitle: 'Eccentricity', left: false },
  { id: 'p3', points: after150SemiMajorIncl, xAxis: semiMajorAxis, yAxis: inclinationAxis,
    xTitle: 'Semi\u2212major axis (after 150 years)', yTitle: 'Inclination', left: true },
  { id: 'p4', points: after150InclEcc, xAxis: inclinationAxis, yAxis: eccentricityAxis,
    xTitle: 'Inclination (after 150 years)', yTitle: 'Eccentricity', left: false },
  { id: 'p5', points: properSemiMajorIncl, xAxis: semiMajorAxis, yAxis: inclinationAxis,
    xTitle: 'Proper semi\u2212major axis', yTitle: 'Proper inclination', left: true },
  { id: 'p6', points: properInclEcc, xAxis: inclinationAxis, yAxis: eccentricityAxis,
    xTitle: 'Proper inclination', yTitle: 'Proper eccentricity', left: false }
];

panels.forEach(p => {
  const yWidth = p.left ? 131.7 : 162.8;
  const rightPad = p.left ? 56.8 : 25.6;
  const yTitlePad = p.left ? 23 : 53;
  new Chart(document.getElementById(p.id), {
    type: 'scatter',
    data: {
      datasets: [{
        data: p.points.map(([x, y]) => ({ x, y })),
        pointRadius: 4.4,
        pointHoverRadius: 4.4,
        pointBackgroundColor: DOT_COLOR,
        pointBorderWidth: 0,
        clip: 0
      }]
    },
    options: {
      responsive: false,
      animation: false,
      devicePixelRatio: 1,
      events: [],
      layout: { padding: { top: 4, right: rightPad, bottom: 0, left: 0 } },
      plugins: { legend: { display: false }, tooltip: { enabled: false } },
      scales: {
        x: scaleOptions(p.xAxis, p.xTitle, true),
        y: scaleOptions(p.yAxis, p.yTitle, false, yWidth, yTitlePad)
      }
    },
    plugins: [insideTicks(p.xAxis, p.yAxis)]
  });
});
</script>
</body>
</html>
